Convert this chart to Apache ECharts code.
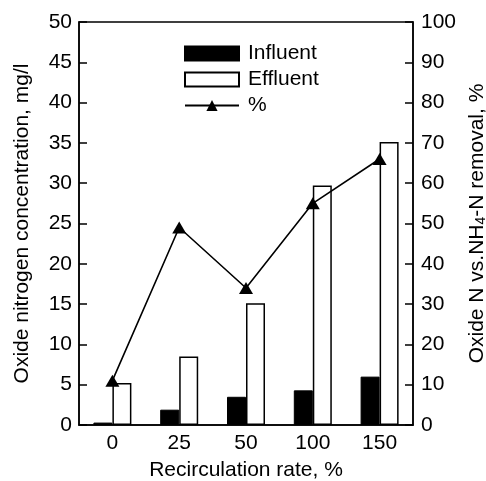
<!DOCTYPE html>
<html>
<head>
<meta charset="utf-8">
<script src="https://cdn.jsdelivr.net/npm/echarts@6/dist/echarts.min.js"></script>
<style>html,body{margin:0;padding:0;background:#fff}#c{width:486px;height:481px}</style>
</head>
<body>
<div id="c"></div>
<script>
const categories = ['0', '25', '50', '100', '150'];
const influent = [0.3, 1.9, 3.5, 4.3, 6.0];
const effluent = [5.2, 8.5, 15.1, 29.7, 35.1];
const removal = [11, 49, 34, 55, 66];
const leftTicks = {min: 0, max: 50, interval: 5};
const rightTicks = {min: 0, max: 100, interval: 10};

const font = 'Liberation Sans, Arial, sans-serif';
const FS = 21;
const chart = echarts.init(document.getElementById('c'), null, {renderer: 'canvas'});
chart.setOption({
  animation: false,
  textStyle: {fontFamily: font, color: '#000'},
  grid: {left: 79, right: 73, top: 22, bottom: 56, containLabel: false, outerBoundsMode: 'none',
         show: true, borderColor: '#000', borderWidth: 1.5, backgroundColor: 'transparent'},
  legend: {
    orient: 'vertical', left: 184, top: 43, padding: 0, itemWidth: 54, itemHeight: 14, itemGap: 5,
    textStyle: {fontFamily: font, fontSize: FS, color: '#000', padding: [0, 0, 0, 4]},
    data: [
      {name: 'Influent', icon: 'rect'},
      {name: 'Effluent', icon: 'rect'},
      {name: '%'}
    ]
  },
  xAxis: {
    type: 'category', data: categories, boundaryGap: true,
    name: 'Recirculation rate, %', nameLocation: 'middle', nameGap: 35,
    nameTextStyle: {fontFamily: font, fontSize: FS, color: '#000'},
    axisLine: {lineStyle: {color: '#000', width: 1.5}},
    axisTick: {inside: true, length: 8, lineStyle: {color: '#000', width: 1.5}},
    axisLabel: {fontFamily: font, fontSize: FS, color: '#000', margin: 8},
    splitLine: {show: false}
  },
  yAxis: [
    {
      type: 'value', min: leftTicks.min, max: leftTicks.max, interval: leftTicks.interval,
      name: 'Oxide nitrogen concentration, mg/l', nameLocation: 'middle', nameGap: 46,
      nameTextStyle: {fontFamily: font, fontSize: FS, color: '#000'},
      axisLine: {show: true, lineStyle: {color: '#000', width: 1.5}},
      axisTick: {show: true, inside: true, length: 8, lineStyle: {color: '#000', width: 1.5}},
      axisLabel: {fontFamily: font, fontSize: FS, color: '#000', margin: 7},
      splitLine: {show: false}
    },
    {
      type: 'value', min: rightTicks.min, max: rightTicks.max, interval: rightTicks.interval,
      name: '{n|Oxide N vs.NH}{s|4}{n|-N removal, %}', nameLocation: 'middle', nameGap: 51,
      nameTextStyle: {fontFamily: font, fontSize: FS, color: '#000',
        rich: {n: {fontFamily: font, fontSize: FS, color: '#000'}, s: {fontFamily: font, fontSize: 14, color: '#000', verticalAlign: 'bottom', padding: [8, 0, 0, 0]}}},
      axisLine: {show: true, lineStyle: {color: '#000', width: 1.5}},
      axisTick: {show: true, inside: true, length: 8, lineStyle: {color: '#000', width: 1.5}},
      axisLabel: {fontFamily: font, fontSize: FS, color: '#000', margin: 8},
      splitLine: {show: false}
    }
  ],
  series: [
    {name: 'Influent', type: 'bar', data: influent, barWidth: 19, barGap: '0%', yAxisIndex: 0,
     itemStyle: {color: '#000', borderColor: '#000', borderWidth: 1}},
    {name: 'Effluent', type: 'bar', data: effluent, barWidth: 19, barGap: '0%', yAxisIndex: 0,
     itemStyle: {color: '#fff', borderColor: '#000', borderWidth: 1.5}},
    {name: '%', type: 'line', data: removal, yAxisIndex: 1, z: 5,
     symbol: 'triangle', symbolSize: [14, 12],
     lineStyle: {color: '#000', width: 1.6}, itemStyle: {color: '#000'}}
  ]
});
</script>
</body>
</html>
